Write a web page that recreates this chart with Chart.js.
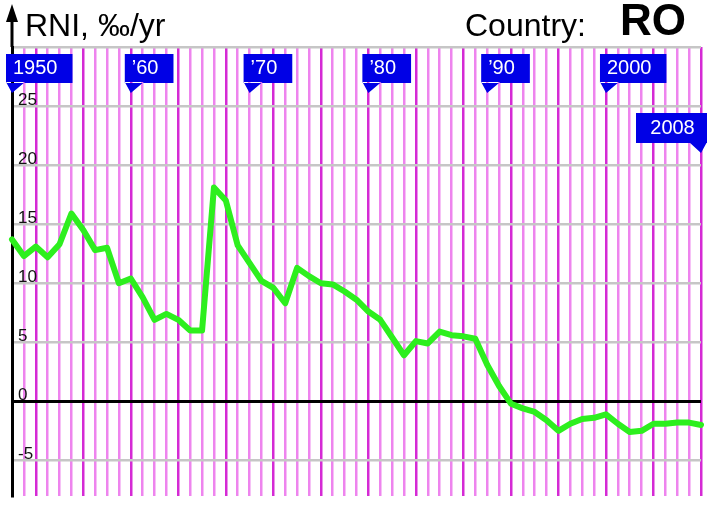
<!DOCTYPE html>
<html>
<head>
<meta charset="utf-8">
<script src="https://cdn.jsdelivr.net/npm/chart.js@4.4.1/dist/chart.umd.min.js"></script>
<style>
    html, body { margin: 0; padding: 0; background: #fff; overflow: hidden; }
    canvas { display: block; }
</style>
</head>
<body>
<canvas id="chart" width="714" height="512"></canvas>
<script>
// Romania, rate of natural increase (per mille per year)
const years = [
    1950, 1951, 1952, 1953, 1954, 1955, 1956, 1957, 1958, 1959,
    1960, 1961, 1962, 1963, 1964, 1965, 1966, 1967, 1968, 1969,
    1970, 1971, 1972, 1973, 1974, 1975, 1976, 1977, 1978, 1979,
    1980, 1981, 1982, 1983, 1984, 1985, 1986, 1987, 1988, 1989,
    1990, 1991, 1992, 1993, 1994, 1995, 1996, 1997, 1998, 1999,
    2000, 2001, 2002, 2003, 2004, 2005, 2006, 2007, 2008,
];
const rni = [
    13.7, 12.3, 13.1, 12.2, 13.3, 15.9, 14.5, 12.8, 13.0, 10.0,
    10.4, 8.8, 6.9, 7.4, 6.9, 6.0, 6.0, 18.1, 17.0, 13.2,
    11.7, 10.2, 9.6, 8.3, 11.3, 10.6, 10.0, 9.9, 9.3, 8.6,
    7.6, 6.9, 5.4, 3.9, 5.1, 4.9, 5.9, 5.6, 5.5, 5.3,
    3.1, 1.3, -0.2, -0.6, -0.9, -1.6, -2.5, -1.9, -1.5, -1.4,
    -1.1, -1.9, -2.6, -2.5, -1.9, -1.9, -1.8, -1.8, -2.0,
];
const yTicks = [-5, 0, 5, 10, 15, 20, 25, 30];

// year flags along the top
const flagYears = [1950, 1960, 1970, 1980, 1990, 2000, 2008];
const flagLabels = ['1950', '\u201960', '\u201970', '\u201980', '\u201990', '2000', '2008'];

const FONT = "'Liberation Sans', Arial, sans-serif";

const decorations = {
    id: 'decorations',
    afterDraw(chart) {
        const ctx = chart.ctx;
        const area = chart.chartArea;
        const x = chart.scales.x;
        ctx.save();

        // y axis arrow
        const ax = area.left;
        ctx.strokeStyle = '#000';
        ctx.lineWidth = 3;
        ctx.beginPath();
        ctx.moveTo(ax, 20);
        ctx.lineTo(ax, area.top);
        ctx.stroke();
        ctx.fillStyle = '#000';
        ctx.beginPath();
        ctx.moveTo(ax, 4);
        ctx.lineTo(ax - 6, 22);
        ctx.lineTo(ax + 6, 22);
        ctx.closePath();
        ctx.fill();

        // titles
        ctx.textBaseline = 'alphabetic';
        ctx.textAlign = 'left';
        ctx.font = '32px ' + FONT;
        ctx.fillText('RNI, \u2030/yr', 25, 36);
        ctx.fillText('Country:', 465, 36);
        ctx.font = 'bold 44px ' + FONT;
        ctx.fillText('RO', 620, 35);

        // flags
        ctx.font = '20px ' + FONT;
        ctx.textBaseline = 'middle';
        flagYears.forEach((yr, i) => {
            const px = x.getPixelForValue(years.indexOf(yr));
            const label = flagLabels[i];
            const w = ctx.measureText(label).width;
            ctx.fillStyle = '#0000e6';
            ctx.beginPath();
            if (i === flagYears.length - 1) {
                const top = 113, bottom = 143;
                const right = px + 6, left = right - 71;
                ctx.rect(left, top, right - left, bottom - top);
                ctx.moveTo(right, bottom - 1);
                ctx.lineTo(px, bottom + 10);
                ctx.lineTo(px - 12, bottom - 1);
                ctx.fill();
                ctx.fillStyle = '#fff';
                ctx.textAlign = 'center';
                ctx.fillText(label, (left + right) / 2 + 1, (top + bottom) / 2);
            } else {
                const top = 54, bottom = 83;
                const left = px - 6, right = left + w + 22;
                ctx.rect(left, top, right - left, bottom - top);
                ctx.moveTo(left, bottom - 1);
                ctx.lineTo(px, bottom + 10);
                ctx.lineTo(px + 13, bottom - 1);
                ctx.fill();
                ctx.fillStyle = '#fff';
                ctx.textAlign = 'left';
                ctx.fillText(label, left + 7, (top + bottom) / 2);
            }
        });
        ctx.restore();
    },
};

new Chart(document.getElementById('chart'), {
    type: 'line',
    data: {
        labels: years,
        datasets: [
            {
                data: rni,
                borderColor: '#2def1e',
                borderWidth: 6,
                borderJoinStyle: 'round',
                borderCapStyle: 'round',
                pointRadius: 0,
                tension: 0,
                clip: false,
            },
        ],
    },
    options: {
        responsive: false,
        animation: false,
        layout: { padding: { left: 12, right: 13, top: 47, bottom: 12 } },
        plugins: {
            legend: { display: false },
            tooltip: { enabled: false },
        },
        scales: {
            x: {
                type: 'category',
                offset: false,
                ticks: { display: false },
                border: { display: false },
                grid: {
                    drawTicks: false,
                    lineWidth: 2.5,
                    color: (c) => {
                        const yr = years[c.index];
                        if (yr === 1950) return 'rgba(0,0,0,0)';
                        return yr % 4 === 0 ? '#d52ad5' : '#ee84ee';
                    },
                },
                afterFit: (s) => {
                    s.height = 0;
                },
            },
            y: {
                min: -8,
                max: 30,
                afterBuildTicks: (s) => {
                    s.ticks = yTicks.map((v) => ({ value: v }));
                },
                afterFit: (s) => {
                    s.width = 0;
                },
                border: { display: true, color: '#000', width: 3 },
                grid: {
                    drawTicks: false,
                    color: (c) => (c.tick.value === 0 ? '#000' : '#c6c6c6'),
                    lineWidth: (c) => (c.tick.value === 0 ? 3 : 2.5),
                },
                ticks: {
                    mirror: true,
                    padding: 6,
                    labelOffset: -6,
                    color: '#111',
                    font: { family: FONT, size: 17 },
                    callback: (v) => (v === 30 ? '' : v),
                },
            },
        },
    },
    plugins: [decorations],
});
</script>
</body>
</html>
